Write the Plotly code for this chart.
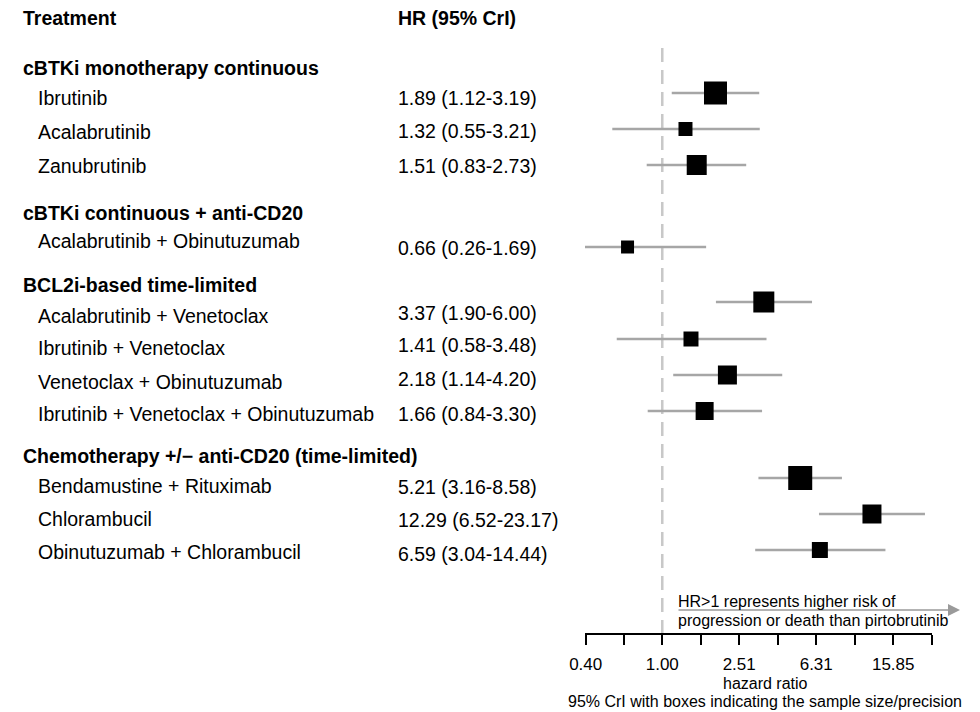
import plotly.graph_objects as go

# ---------------- data ----------------
groups = [
    "cBTKi monotherapy continuous",
    "cBTKi continuous + anti-CD20",
    "BCL2i-based time-limited",
    "Chemotherapy +/\u2212 anti-CD20 (time-limited)",
]
treatments = [
    "Ibrutinib", "Acalabrutinib", "Zanubrutinib",
    "Acalabrutinib + Obinutuzumab",
    "Acalabrutinib + Venetoclax", "Ibrutinib + Venetoclax",
    "Venetoclax + Obinutuzumab", "Ibrutinib + Venetoclax + Obinutuzumab",
    "Bendamustine + Rituximab", "Chlorambucil", "Obinutuzumab + Chlorambucil",
]
hr = [1.89, 1.32, 1.51, 0.66, 3.37, 1.41, 2.18, 1.66, 5.21, 12.29, 6.59]
ci_low = [1.12, 0.55, 0.83, 0.26, 1.90, 0.58, 1.14, 0.84, 3.16, 6.52, 3.04]
ci_high = [3.19, 3.21, 2.73, 1.69, 6.00, 3.48, 4.20, 3.30, 8.58, 23.17, 14.44]
# relative precision (box size)
precision = [23, 14, 20, 13, 21, 15, 19, 18, 24, 19, 16]
tick_values = [0.40, 1.00, 2.51, 6.31, 15.85]
tick_labels = ["0.40", "1.00", "2.51", "6.31", "15.85"]

# ---------------- layout positions (page pixels) ----------------
OFF = 8                     # default body margin of the html page
PL, PR = 585, 932           # plot left / right edge
PH = 633                    # plot bottom (axis line)
row_y = [93, 129, 165, 247, 302, 339, 375, 411, 478, 514, 550]
label_y = [98, 132, 166, 241, 316, 348, 382, 414, 486, 519, 552]
value_y = [98, 131, 166, 248, 313, 345, 379, 414, 487, 520, 554]
group_y = [68, 213, 285, 456]

FONT = "Liberation Sans, Arial, Helvetica, sans-serif"


def px(xpix):
    return (xpix - PL) / (PR - PL)


def py(ypix):
    return (PH - ypix) / (PH - OFF)


fig = go.Figure()

# reference line at HR = 1
fig.add_trace(go.Scatter(
    x=[1, 1], y=[48, PH], mode="lines",
    line=dict(color="#c8c8c8", width=2.5, dash="14px,8px"),
    hoverinfo="skip"))

# credible intervals
xs, ys = [], []
for lo, hi, y in zip(ci_low, ci_high, row_y):
    xs += [lo, hi, None]
    ys += [y, y, None]
fig.add_trace(go.Scatter(
    x=xs, y=ys, mode="lines",
    line=dict(color="#a6a6a6", width=2.5), hoverinfo="skip"))

# point estimates
fig.add_trace(go.Scatter(
    x=hr, y=row_y, mode="markers",
    marker=dict(symbol="square", size=precision, color="black",
                opacity=1, line=dict(width=0)),
    text=treatments, hovertemplate="%{text}: %{x}<extra></extra>"))

ann = []


def add_text(text, xpix, y, size=19.5, anchor="left"):
    ann.append(dict(text=text, x=px(xpix), xref="paper", y=py(y),
                    yref="paper", xanchor=anchor, yanchor="middle",
                    showarrow=False,
                    font=dict(family=FONT, size=size, color="black")))


add_text("<b>Treatment</b>", 21, 18)
add_text("<b>HR (95% CrI)</b>", 396, 18)
for g, y in zip(groups, group_y):
    add_text("<b>" + g + "</b>", 21, y)
for t, y in zip(treatments, label_y):
    add_text(t, 36, y)
for h, lo, hi, y in zip(hr, ci_low, ci_high, value_y):
    add_text(f"{h:.2f} ({lo:.2f}-{hi:.2f})", 396, y)

# arrow with explanation
ann.append(dict(x=px(960), xref="paper", y=py(610), yref="paper",
                ax=-283, ay=0, text="", showarrow=True,
                arrowhead=2, arrowsize=1.6, arrowwidth=1.5,
                arrowcolor="#9a9a9a"))
add_text("HR>1 represents higher risk of", 676, 601, size=16)
add_text("progression or death than pirtobrutinib", 676, 620, size=16)

# axis title / caption
add_text("hazard ratio", 765, 683, size=16, anchor="center")
add_text("95% CrI with boxes indicating the sample size/precision", 765, 701,
         size=16, anchor="center")

# ticks: labelled major ticks plus unlabelled minor ticks in between
all_ticks, all_text = [], []
for i, (v, lab) in enumerate(zip(tick_values, tick_labels)):
    all_ticks.append(v)
    all_text.append(lab)
    if i < len(tick_values) - 1:
        all_ticks.append((v * tick_values[i + 1]) ** 0.5)
        all_text.append("")
all_ticks.append(tick_values[-1] * (tick_values[-1] / tick_values[-2]) ** 0.5)
all_text.append("")

fig.update_layout(
    width=980 - OFF, height=712 - OFF,
    margin=dict(l=PL - OFF, r=980 - PR, t=0, b=712 - PH, autoexpand=False),
    paper_bgcolor="white", plot_bgcolor="white",
    showlegend=False,
    annotations=ann,
    xaxis=dict(type="log", range=[-0.4015, 1.4015], tickvals=all_ticks,
               ticktext=all_text, showgrid=False, zeroline=False,
               showline=True, linecolor="black", linewidth=2,
               ticks="outside", ticklen=10, tickwidth=2, tickcolor="black",
               tickfont=dict(family=FONT, size=17, color="black"),
               ticklabelstandoff=5, automargin=False, fixedrange=True),
    yaxis=dict(range=[PH, OFF], visible=False, fixedrange=True,
               automargin=False),
)

fig.write_html("out.html")
